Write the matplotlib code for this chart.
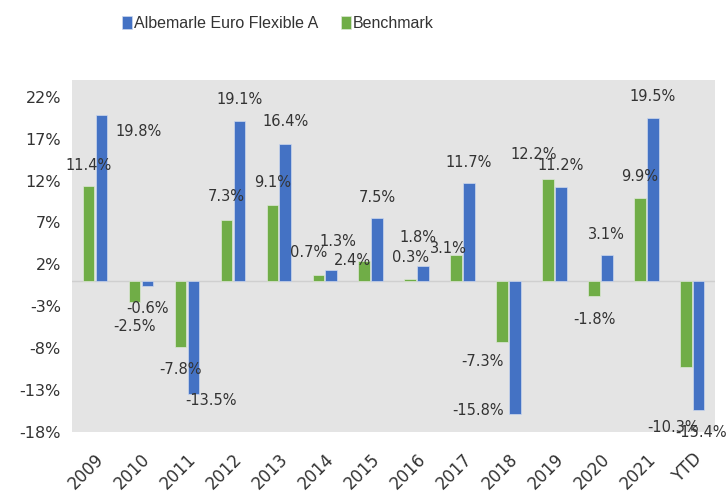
import matplotlib.pyplot as plt
import numpy as np

years = ["2009", "2010", "2011", "2012", "2013", "2014", "2015",
         "2016", "2017", "2018", "2019", "2020", "2021", "YTD"]
fund = [19.8, -0.6, -13.5, 19.1, 16.4, 1.3, 7.5, 1.8, 11.7, -15.8, 11.2, 3.1, 19.5, -15.4]
bench = [11.4, -2.5, -7.8, 7.3, 9.1, 0.7, 2.4, 0.3, 3.1, -7.3, 12.2, -1.8, 9.9, -10.3]
yticks = [22, 17, 12, 7, 2, -3, -8, -13, -18]

# label nudges (pixels) so the labels sit roughly where the original ones do
bench_nudge = [(0, 20), (0, -24), (0, -23), (0, 23), (0, 22), (-10, 23), (-12, 1),
               (0, 21), (-8, 7), (-20, -19), (-14, 24), (0, -23), (0, 22), (-13, -60)]
fund_nudge = [(37, -16), (0, -22), (18, -6), (0, 22), (0, 22), (7, 29), (0, 21),
              (-5, 29), (0, 21), (-37, 3), (0, 22), (0, 21), (0, 21), (2, -22)]

blue = "#4472C4"
green = "#70AD47"
txt = "#333333"
plt.rcParams['font.family'] = ['DejaVu Sans']

fig = plt.figure(figsize=(7.26, 4.94), dpi=100)
ax = fig.add_axes([0.0992, 0.1255, 0.886, 0.7125])
ax.set_facecolor("#E4E4E4")

x = np.arange(len(years))
w = 0.25
gb = ax.bar(x - 0.14, bench, w, color=green, edgecolor="#dde8d6", linewidth=0.5, label="Benchmark")
fb = ax.bar(x + 0.14, fund, w, color=blue, edgecolor="#cdd8ee", linewidth=0.5, label="Albemarle Euro Flexible A")
ax.axhline(0, color="#cfcfcf", linewidth=1, zorder=0.5)

for xi, v, (dx, dy) in zip(x - 0.14, bench, bench_nudge):
    ax.annotate(f"{v:.1f}%", (xi, v), xytext=(dx, dy), textcoords="offset pixels",
                ha="center", va="center", fontsize=10.5, color=txt)
for xi, v, (dx, dy) in zip(x + 0.14, fund, fund_nudge):
    ax.annotate(f"{v:.1f}%", (xi, v), xytext=(dx, dy), textcoords="offset pixels",
                ha="center", va="center", fontsize=10.5, color=txt)

ax.set_xlim(-0.5, len(years) - 0.5)
ax.set_ylim(-18, 24)
ax.set_yticks(yticks)
ax.set_yticklabels([f"{t}%" for t in yticks], fontsize=11.5, color=txt)
ax.set_xticks(x)
ax.set_xticklabels(years, rotation=45, ha="right", va="top", rotation_mode="anchor",
                   fontsize=12, color=txt)
ax.tick_params(length=0, pad=8)
ax.tick_params(axis="x", pad=13)
for s in ax.spines.values():
    s.set_visible(False)

fig.legend(handles=[fb, gb], loc="center", bbox_to_anchor=(0.383, 0.952), ncol=2,
           frameon=False, prop={"family": ["Liberation Sans", "DejaVu Sans"], "size": 11.5},
           handlelength=0.6, handleheight=0.9,
           handletextpad=0.15, columnspacing=1.4, labelcolor=txt)

fig.savefig("out.png", dpi=100)
